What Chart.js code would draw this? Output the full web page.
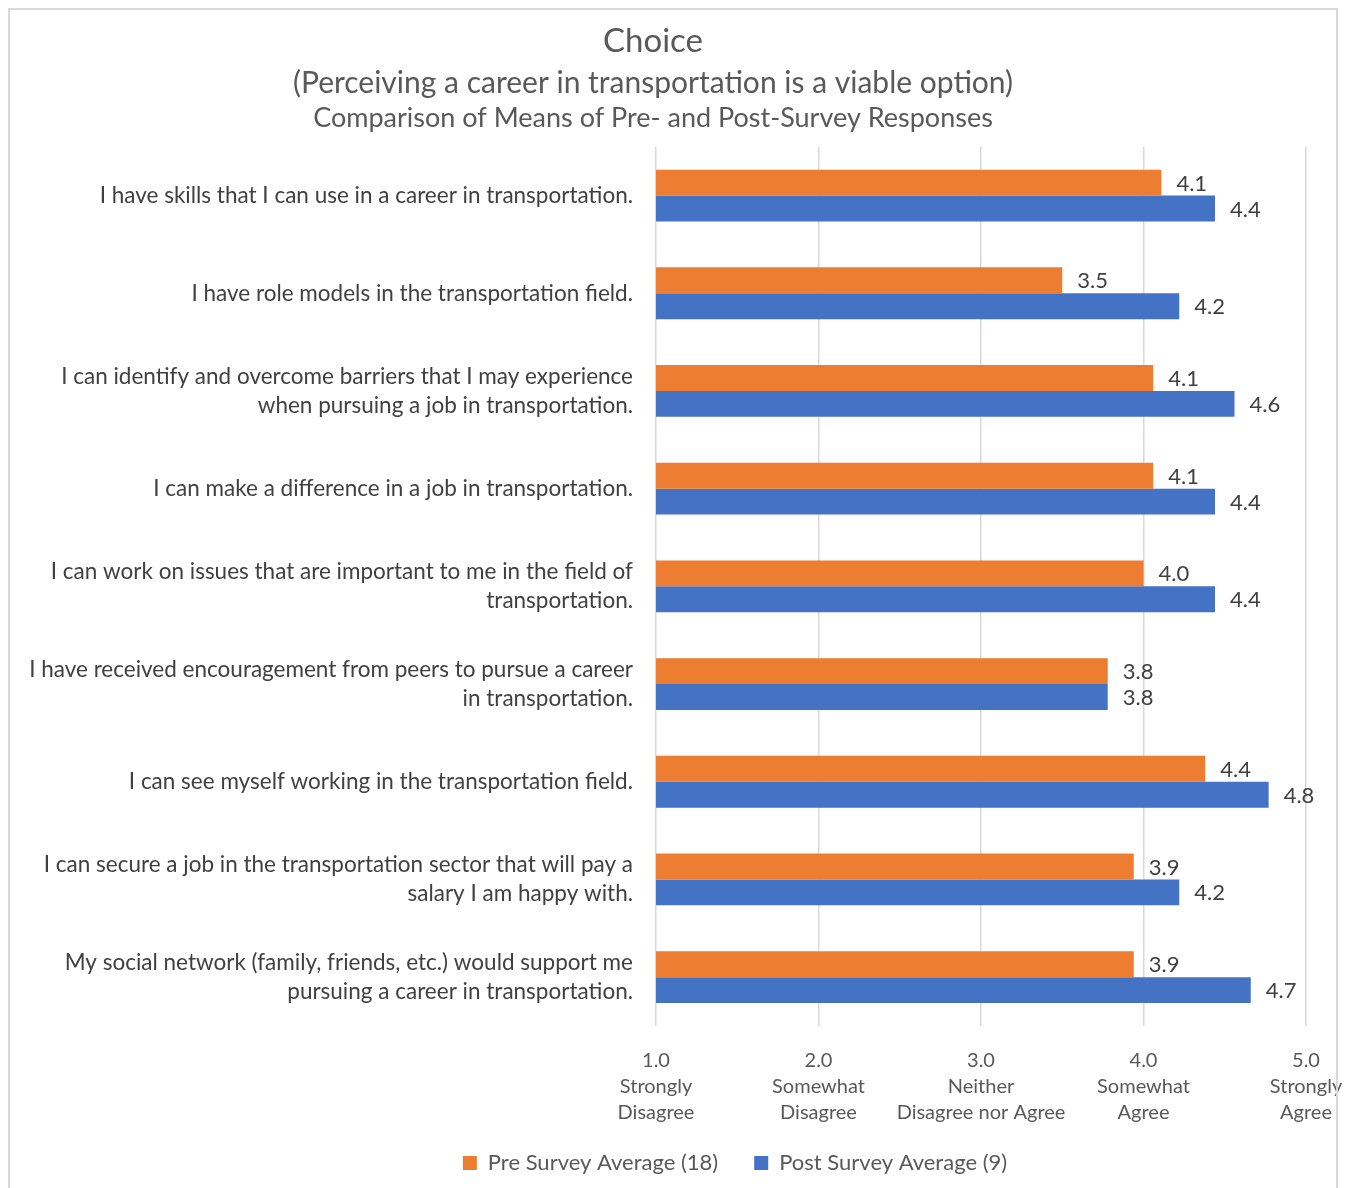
<!DOCTYPE html>
<html>
<head>
<meta charset="utf-8">
<script src="https://cdn.jsdelivr.net/npm/chart.js@4.4.0/dist/chart.umd.min.js"></script>
<style>
    body { margin: 0; background: #ffffff; }
    #wrap { position: relative; width: 1347px; height: 1188px; }
    #frame {
        position: absolute; left: 8px; top: 8px; width: 1330px; height: 1190px;
        border: 2px solid #d9d9d9; box-sizing: border-box; pointer-events: none;
    }
</style>
</head>
<body>
<div id="wrap">
    <canvas id="results_plot" width="1347" height="1188"></canvas>
    <div id="frame"></div>
</div>
<script>
'use strict';

// Survey statements (one per row, wrapped as in the original)
const statements = [
    ['I have skills that I can use in a career in transportation.'],
    ['I have role models in the transportation field.'],
    ['I can identify and overcome barriers that I may experience', 'when pursuing a job in transportation.'],
    ['I can make a difference in a job in transportation.'],
    ['I can work on issues that are important to me in the field of', 'transportation.'],
    ['I have received encouragement from peers to pursue a career', 'in transportation.'],
    ['I can see myself working in the transportation field.'],
    ['I can secure a job in the transportation sector that will pay a', 'salary I am happy with.'],
    ['My social network (family, friends, etc.) would support me', 'pursuing a career in transportation.']
];

// Means
const preSurvey = [4.11, 3.50, 4.06, 4.06, 4.00, 3.78, 4.38, 3.94, 3.94];
const postSurvey = [4.44, 4.22, 4.56, 4.44, 4.44, 3.78, 4.77, 4.22, 4.66];

// Likert scale tick labels
const scaleTicks = [
    ['1.0', 'Strongly', 'Disagree'],
    ['2.0', 'Somewhat', 'Disagree'],
    ['3.0', 'Neither', 'Disagree nor Agree'],
    ['4.0', 'Somewhat', 'Agree'],
    ['5.0', 'Strongly', 'Agree']
];

const titleText = 'Choice';
const subtitleLines = [
    '(Perceiving a career in transportation is a viable option)',
    'Comparison of Means of Pre- and Post-Survey Responses'
];

const FONT = "Lato, 'Open Sans', sans-serif";
const TEXT_COLOR = '#404040';
const TITLE_COLOR = '#595959';
const X_OVERLAP = 32;

// Writes the value at the end of each bar
const barValueLabels = {
    id: 'barValueLabels',
    afterDatasetsDraw(chart) {
        const ctx = chart.ctx;
        ctx.save();
        ctx.font = '22px ' + FONT;
        ctx.fillStyle = TEXT_COLOR;
        ctx.textAlign = 'left';
        ctx.textBaseline = 'middle';
        chart.data.datasets.forEach(function (ds, i) {
            const meta = chart.getDatasetMeta(i);
            meta.data.forEach(function (bar, j) {
                ctx.fillText(ds.data[j].toFixed(1), bar.x + 15, bar.y + 1);
            });
        });
        ctx.restore();
    }
};

// Second subtitle line is a bit smaller than the first, so it is drawn here
const secondSubtitle = {
    id: 'secondSubtitle',
    afterDraw(chart) {
        const ctx = chart.ctx;
        const tb = chart.titleBlock;
        ctx.save();
        ctx.font = '27px ' + FONT;
        ctx.fillStyle = TITLE_COLOR;
        ctx.textAlign = 'center';
        ctx.textBaseline = 'middle';
        ctx.fillText(subtitleLines[1], (tb.left + tb.right) / 2, chart.chartArea.top - 28);
        ctx.restore();
    }
};

// Excel puts the legend right of centre; nudge it over after layout.
// The x labels share space with the legend padding, so widen their clip box.
const layoutTweaks = {
    id: 'layoutTweaks',
    afterLayout(chart) {
        chart.legend.left += 82;
        chart.legend.right += 82;
        chart.scales.x.bottom += X_OVERLAP;
    }
};

const data = {
    labels: statements,
    datasets: [
        { label: 'Pre Survey Average (18)', data: preSurvey, backgroundColor: '#ED7D31' },
        { label: 'Post Survey Average (9)', data: postSurvey, backgroundColor: '#4472C4' }
    ]
};

const config = {
    type: 'bar',
    data: data,
    plugins: [barValueLabels, secondSubtitle, layoutTweaks],
    options: {
        indexAxis: 'y',
        responsive: false,
        animation: false,
        categoryPercentage: 0.53,
        barPercentage: 1.0,
        layout: {
            padding: { left: 0, right: 41, top: 0, bottom: 4 }
        },
        plugins: {
            title: {
                display: true,
                text: titleText,
                color: TITLE_COLOR,
                font: { family: FONT, size: 33, weight: 'normal', lineHeight: 1.2 },
                padding: { top: 22, bottom: 3 }
            },
            subtitle: {
                display: true,
                text: subtitleLines[0],
                color: TITLE_COLOR,
                font: { family: FONT, size: 30, weight: 'normal', lineHeight: 1.27 },
                padding: { top: 0, bottom: 44 }
            },
            legend: {
                position: 'bottom',
                labels: {
                    boxWidth: 14,
                    boxHeight: 14,
                    padding: 36,
                    color: '#595959',
                    font: { family: FONT, size: 22 }
                }
            },
            tooltip: { enabled: false }
        },
        scales: {
            x: {
                min: 1,
                max: 5,
                border: { display: false },
                grid: { color: '#d9d9d9', lineWidth: 1.5, drawTicks: false },
                ticks: {
                    stepSize: 1,
                    autoSkip: false,
                    padding: 22,
                    maxRotation: 0,
                    color: '#595959',
                    font: { family: FONT, size: 20, lineHeight: 1.3 },
                    callback: function (value) {
                        return scaleTicks[Math.round(value) - 1];
                    }
                },
                afterFit: function (scale) {
                    // keep the plot edge at 5.0 even though its label sticks out
                    scale.paddingRight = 0;
                    scale.paddingLeft = 0;
                    scale.height -= X_OVERLAP;
                }
            },
            y: {
                border: { display: false },
                grid: { display: false, drawTicks: false },
                ticks: {
                    padding: 23,
                    color: TEXT_COLOR,
                    font: { family: FONT, size: 22.5, lineHeight: 1.29 }
                },
                afterFit: function (scale) {
                    scale.width = 656;
                }
            }
        }
    }
};

// drawing the chart
var myChart = new Chart(document.getElementById('results_plot'), config);
</script>
</body>
</html>
